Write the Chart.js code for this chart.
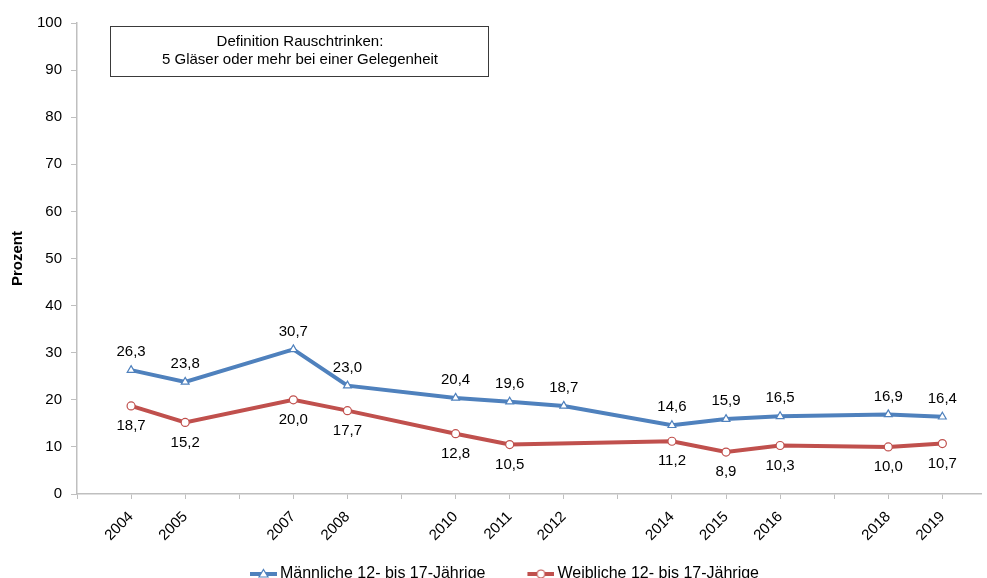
<!DOCTYPE html>
<html>
<head>
<meta charset="utf-8">
<script src="https://cdn.jsdelivr.net/npm/chart.js@4/dist/chart.umd.min.js"></script>
<style>
  html, body { margin: 0; padding: 0; background: #fff; overflow: hidden; }
  #wrap { width: 987px; height: 578px; overflow: hidden; }
</style>
</head>
<body>
<div id="wrap"><canvas id="chart" width="987" height="592"></canvas></div>
<script>
const years = [2004, 2005, 2007, 2008, 2010, 2011, 2012, 2014, 2015, 2016, 2018, 2019];
const allYears = [2003, 2004, 2005, 2006, 2007, 2008, 2009, 2010, 2011, 2012, 2013, 2014, 2015, 2016, 2017, 2018, 2019];
const male = [26.3, 23.8, 30.7, 23.0, 20.4, 19.6, 18.7, 14.6, 15.9, 16.5, 16.9, 16.4];
const female = [18.7, 15.2, 20.0, 17.7, 12.8, 10.5, null, 11.2, 8.9, 10.3, 10.0, 10.7];
const yTicks = [0, 10, 20, 30, 40, 50, 60, 70, 80, 90, 100];
const seriesNames = ['Männliche 12- bis 17-Jährige', 'Weibliche 12- bis 17-Jährige'];
const noteLines = ['Definition Rauschtrinken:', '5 Gläser oder mehr bei einer Gelegenheit'];

const BLUE = '#4f81bd';
const RED = '#c0504d';
const FONT = 'Liberation Sans, Arial, sans-serif';

// legend symbol: line with marker, right-aligned in a wider blank canvas
function legendIcon(color, shape) {
  const c = document.createElement('canvas');
  c.width = 54; c.height = 12;
  const g = c.getContext('2d');
  const x0 = 27, mid = x0 + 13.5;
  g.strokeStyle = color; g.lineWidth = 4;
  g.beginPath(); g.moveTo(x0, 6); g.lineTo(54, 6); g.stroke();
  g.fillStyle = '#fff'; g.lineWidth = 1.2;
  g.beginPath();
  if (shape === 'tri') { g.moveTo(mid, 1.5); g.lineTo(mid + 4.5, 9); g.lineTo(mid - 4.5, 9); g.closePath(); }
  else g.arc(mid, 6, 4, 0, Math.PI * 2);
  g.fill(); g.stroke();
  return c;
}
const icons = [legendIcon(BLUE, 'tri'), legendIcon(RED, 'circ')];

const valueLabels = {
  id: 'valueLabels',
  afterDatasetsDraw(chart) {
    const ctx = chart.ctx;
    ctx.save();
    ctx.font = '15px ' + FONT;
    ctx.fillStyle = '#000';
    ctx.textAlign = 'center';
    ctx.textBaseline = 'middle';
    chart.data.datasets.forEach((ds, i) => {
      const meta = chart.getDatasetMeta(i);
      meta.data.forEach((pt, j) => {
        const v = ds.data[j].y;
        if (v == null) return;
        const dy = i === 0 ? -18 : 20;
        ctx.fillText(v.toFixed(1).replace('.', ','), pt.x, pt.y + dy);
      });
    });
    ctx.restore();
  }
};

const noteBox = {
  id: 'noteBox',
  afterDraw(chart) {
    const ctx = chart.ctx;
    ctx.save();
    ctx.strokeStyle = '#3a3a3a';
    ctx.lineWidth = 1;
    ctx.strokeRect(110.5, 26.5, 378, 50);
    ctx.font = '15px ' + FONT;
    ctx.fillStyle = '#000';
    ctx.textAlign = 'center';
    ctx.textBaseline = 'middle';
    ctx.fillText(noteLines[0], 300, 42);
    ctx.fillText(noteLines[1], 300, 60);
    ctx.restore();
  }
};

new Chart(document.getElementById('chart'), {
  type: 'line',
  data: {
    datasets: [
      {
        label: seriesNames[0],
        data: years.map((y, i) => ({ x: y, y: male[i] })),
        borderColor: BLUE, backgroundColor: '#fff', borderWidth: 4,
        pointStyle: 'triangle', pointRadius: 4.5, pointBorderWidth: 1.2,
        pointBackgroundColor: '#fff', pointBorderColor: BLUE,
        tension: 0
      },
      {
        label: seriesNames[1],
        data: years.map((y, i) => ({ x: y, y: female[i] })),
        borderColor: RED, backgroundColor: '#fff', borderWidth: 4,
        pointStyle: 'circle', pointRadius: 4, pointBorderWidth: 1.2,
        pointBackgroundColor: '#fff', pointBorderColor: RED,
        spanGaps: true, tension: 0
      }
    ]
  },
  options: {
    responsive: false,
    animation: false,
    layout: { padding: { left: 0, right: 0, top: 23, bottom: 0 } },
    plugins: {
      tooltip: { enabled: false },
      legend: {
        position: 'bottom',
        labels: {
          usePointStyle: true,
          pointStyleWidth: 44,
          padding: 20,
          color: '#000',
          font: { family: FONT, size: 16 },
          generateLabels: chart => chart.data.datasets.map((ds, i) => ({
            text: ds.label, pointStyle: icons[i], datasetIndex: i,
            fillStyle: '#fff', strokeStyle: ds.borderColor, lineWidth: 0
          }))
        }
      }
    },
    scales: {
      x: {
        type: 'linear', min: 2003, max: 2019.72,
        afterBuildTicks: s => { s.ticks = allYears.map(v => ({ value: v })); },
        afterFit: s => { s.height = 52; },
        ticks: {
          autoSkip: false, minRotation: 45, maxRotation: 45, padding: 9,
          color: '#000', font: { family: FONT, size: 15 },
          callback: v => years.includes(v) ? String(v) : ''
        },
        grid: { drawOnChartArea: false, drawTicks: true, tickLength: 5, color: '#bfbfbf' },
        border: { color: '#bfbfbf', width: 1.5 }
      },
      y: {
        min: 0, max: 100,
        afterBuildTicks: s => { s.ticks = yTicks.map(v => ({ value: v })); },
        afterFit: s => { s.width = 77; },
        title: {
          display: true, text: 'Prozent', color: '#000',
          font: { family: FONT, size: 15, weight: 'bold' }, padding: { top: 9, bottom: 0 }
        },
        ticks: { color: '#000', padding: 9, font: { family: FONT, size: 15 } },
        grid: { drawOnChartArea: false, drawTicks: true, tickLength: 6, color: '#bfbfbf' },
        border: { color: '#bfbfbf', width: 1.5 }
      }
    }
  },
  plugins: [valueLabels, noteBox]
});
</script>
</body>
</html>
